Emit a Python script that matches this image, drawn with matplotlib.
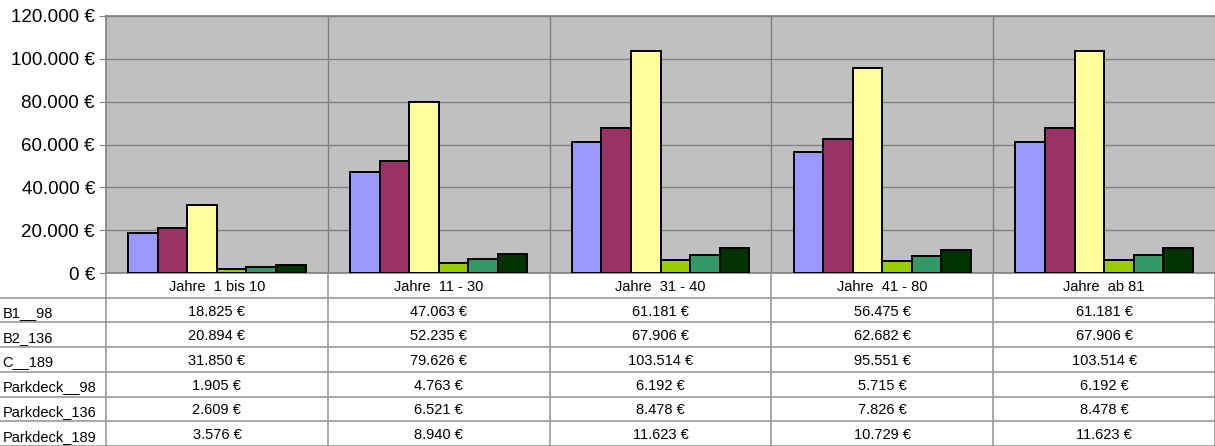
import matplotlib
matplotlib.use('Agg')
import matplotlib.pyplot as plt
import numpy as np

plt.rcParams['font.family'] = ['Liberation Sans', 'DejaVu Sans']

# data
kategorien = ['Jahre  1 bis 10', 'Jahre  11 - 30', 'Jahre  31 - 40', 'Jahre  41 - 80', 'Jahre  ab 81']
serien = ['B1__98', 'B2_136', 'C__189', 'Parkdeck__98', 'Parkdeck_136', 'Parkdeck_189']
b1_98 = [18825, 47063, 61181, 56475, 61181]
b2_136 = [20894, 52235, 67906, 62682, 67906]
c_189 = [31850, 79626, 103514, 95551, 103514]
pd_98 = [1905, 4763, 6192, 5715, 6192]
pd_136 = [2609, 6521, 8478, 7826, 8478]
pd_189 = [3576, 8940, 11623, 10729, 11623]
werte = [b1_98, b2_136, c_189, pd_98, pd_136, pd_189]
farben = ['#9999FF', '#993366', '#FFFF99', '#99CC00', '#339966', '#003300']
yticks = [0, 20000, 40000, 60000, 80000, 100000, 120000]


def euro(v):
    return '{:,.0f} €'.format(v).replace(',', '.')


W, H = 1215.0, 446.0
fig = plt.figure(figsize=(W / 100, H / 100), dpi=100)

left, right, top, bottom = 106, 1215, 16, 273
ax = fig.add_axes([left / W, (H - bottom) / H, (right - left) / W, (bottom - top) / H])
ax.set_facecolor('#C0C0C0')

n = len(serien)
bw = 0.8 / n
x = np.arange(len(kategorien))
for i, (vals, col) in enumerate(zip(werte, farben)):
    ax.bar(x - 0.4 + bw * (i + 0.5), vals, bw, color=col, edgecolor='black',
           linewidth=1.4, zorder=3)

ax.set_xlim(-0.5, len(kategorien) - 0.5)
ax.set_ylim(0, 120000)
ax.set_yticks(yticks)
ax.set_yticklabels([euro(v) for v in yticks], fontsize=13.5)
ax.set_xticks([])
ax.grid(axis='y', color='#808080', linewidth=1, zorder=1)
for k in range(1, len(kategorien)):
    ax.axvline(k - 0.5, color='#808080', linewidth=1, zorder=1)
for s in ['left', 'top', 'bottom']:
    ax.spines[s].set_color('#808080')
    ax.spines[s].set_linewidth(1.2)
ax.spines['right'].set_visible(False)
ax.tick_params(axis='y', length=5, color='#808080', pad=3, labelcolor='black')

# data table below
tab = fig.add_axes([0, 0, 1, (H - bottom) / H])
lab_w = left / ((right - left) / len(kategorien))
tab.set_xlim(-0.5 - lab_w, len(kategorien) - 0.5)
nrows = n + 1
tab.set_ylim(nrows, 0)
tab.axis('off')

lc = '#999999'
for r in range(1, nrows + 1):
    tab.axhline(r, color=lc, linewidth=1.2)
for k in range(len(kategorien) + 1):
    tab.axvline(k - 0.5, color=lc, linewidth=1.2)
for j, name in enumerate(kategorien):
    tab.text(j, 0.72, name, ha='center', va='baseline', fontsize=10.5)
for i, (name, vals) in enumerate(zip(serien, werte)):
    tab.text(-0.5 - lab_w + 0.012, i + 1.78, name, ha='left', va='baseline', fontsize=10.5)
    for j, v in enumerate(vals):
        tab.text(j, i + 1.72, euro(v), ha='center', va='baseline', fontsize=10.5)

fig.savefig('out.png', dpi=100)
